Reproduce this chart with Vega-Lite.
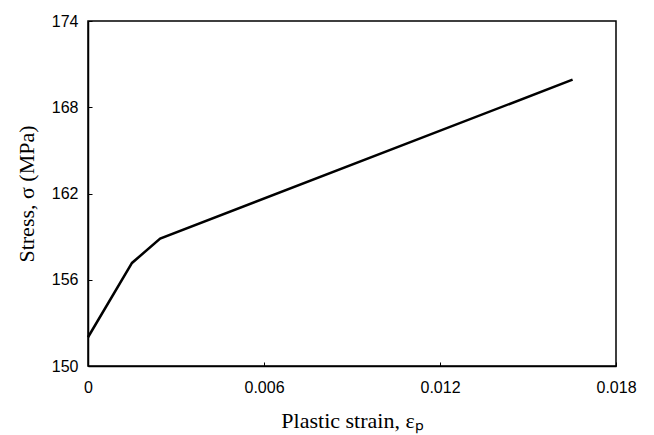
{
  "$schema": "https://vega.github.io/schema/vega-lite/v6.json",
  "width": 528,
  "height": 345,
  "autosize": "none",
  "padding": {"left": 88, "top": 21, "right": 38, "bottom": 69},
  "background": "white",
  "config": {
    "view": {"stroke": "black", "strokeWidth": 1.5},
    "axis": {
      "grid": false,
      "domainColor": "black",
      "domainWidth": 1.5,
      "tickColor": "black",
      "tickSize": -4,
      "tickWidth": 1,
      "labelFont": "Liberation Sans",
      "labelFontSize": 16,
      "labelColor": "black",
      "labelFlush": false,
      "titleFont": "Liberation Serif",
      "titleFontSize": 22,
      "titleFontWeight": "normal",
      "titleColor": "black"
    }
  },
  "data": {
    "values": [
      {"strain": 0.0, "stress": 152.0},
      {"strain": 0.0015, "stress": 157.17},
      {"strain": 0.00246, "stress": 158.86},
      {"strain": 0.01652, "stress": 169.92}
    ]
  },
  "mark": {"type": "line", "color": "black", "strokeWidth": 2.5},
  "encoding": {
    "x": {
      "field": "strain",
      "type": "quantitative",
      "scale": {"domain": [0, 0.018], "nice": false, "zero": false},
      "axis": {"values": [0, 0.006, 0.012, 0.018], "format": "~g", "labelPadding": 17, "title": "Plastic strain, εₚ", "titlePadding": 15}
    },
    "y": {
      "field": "stress",
      "type": "quantitative",
      "scale": {"domain": [150, 174], "nice": false, "zero": false},
      "axis": {"values": [150, 156, 162, 168, 174], "labelPadding": 14, "title": "Stress, σ (MPa)", "titlePadding": 13}
    }
  }
}
